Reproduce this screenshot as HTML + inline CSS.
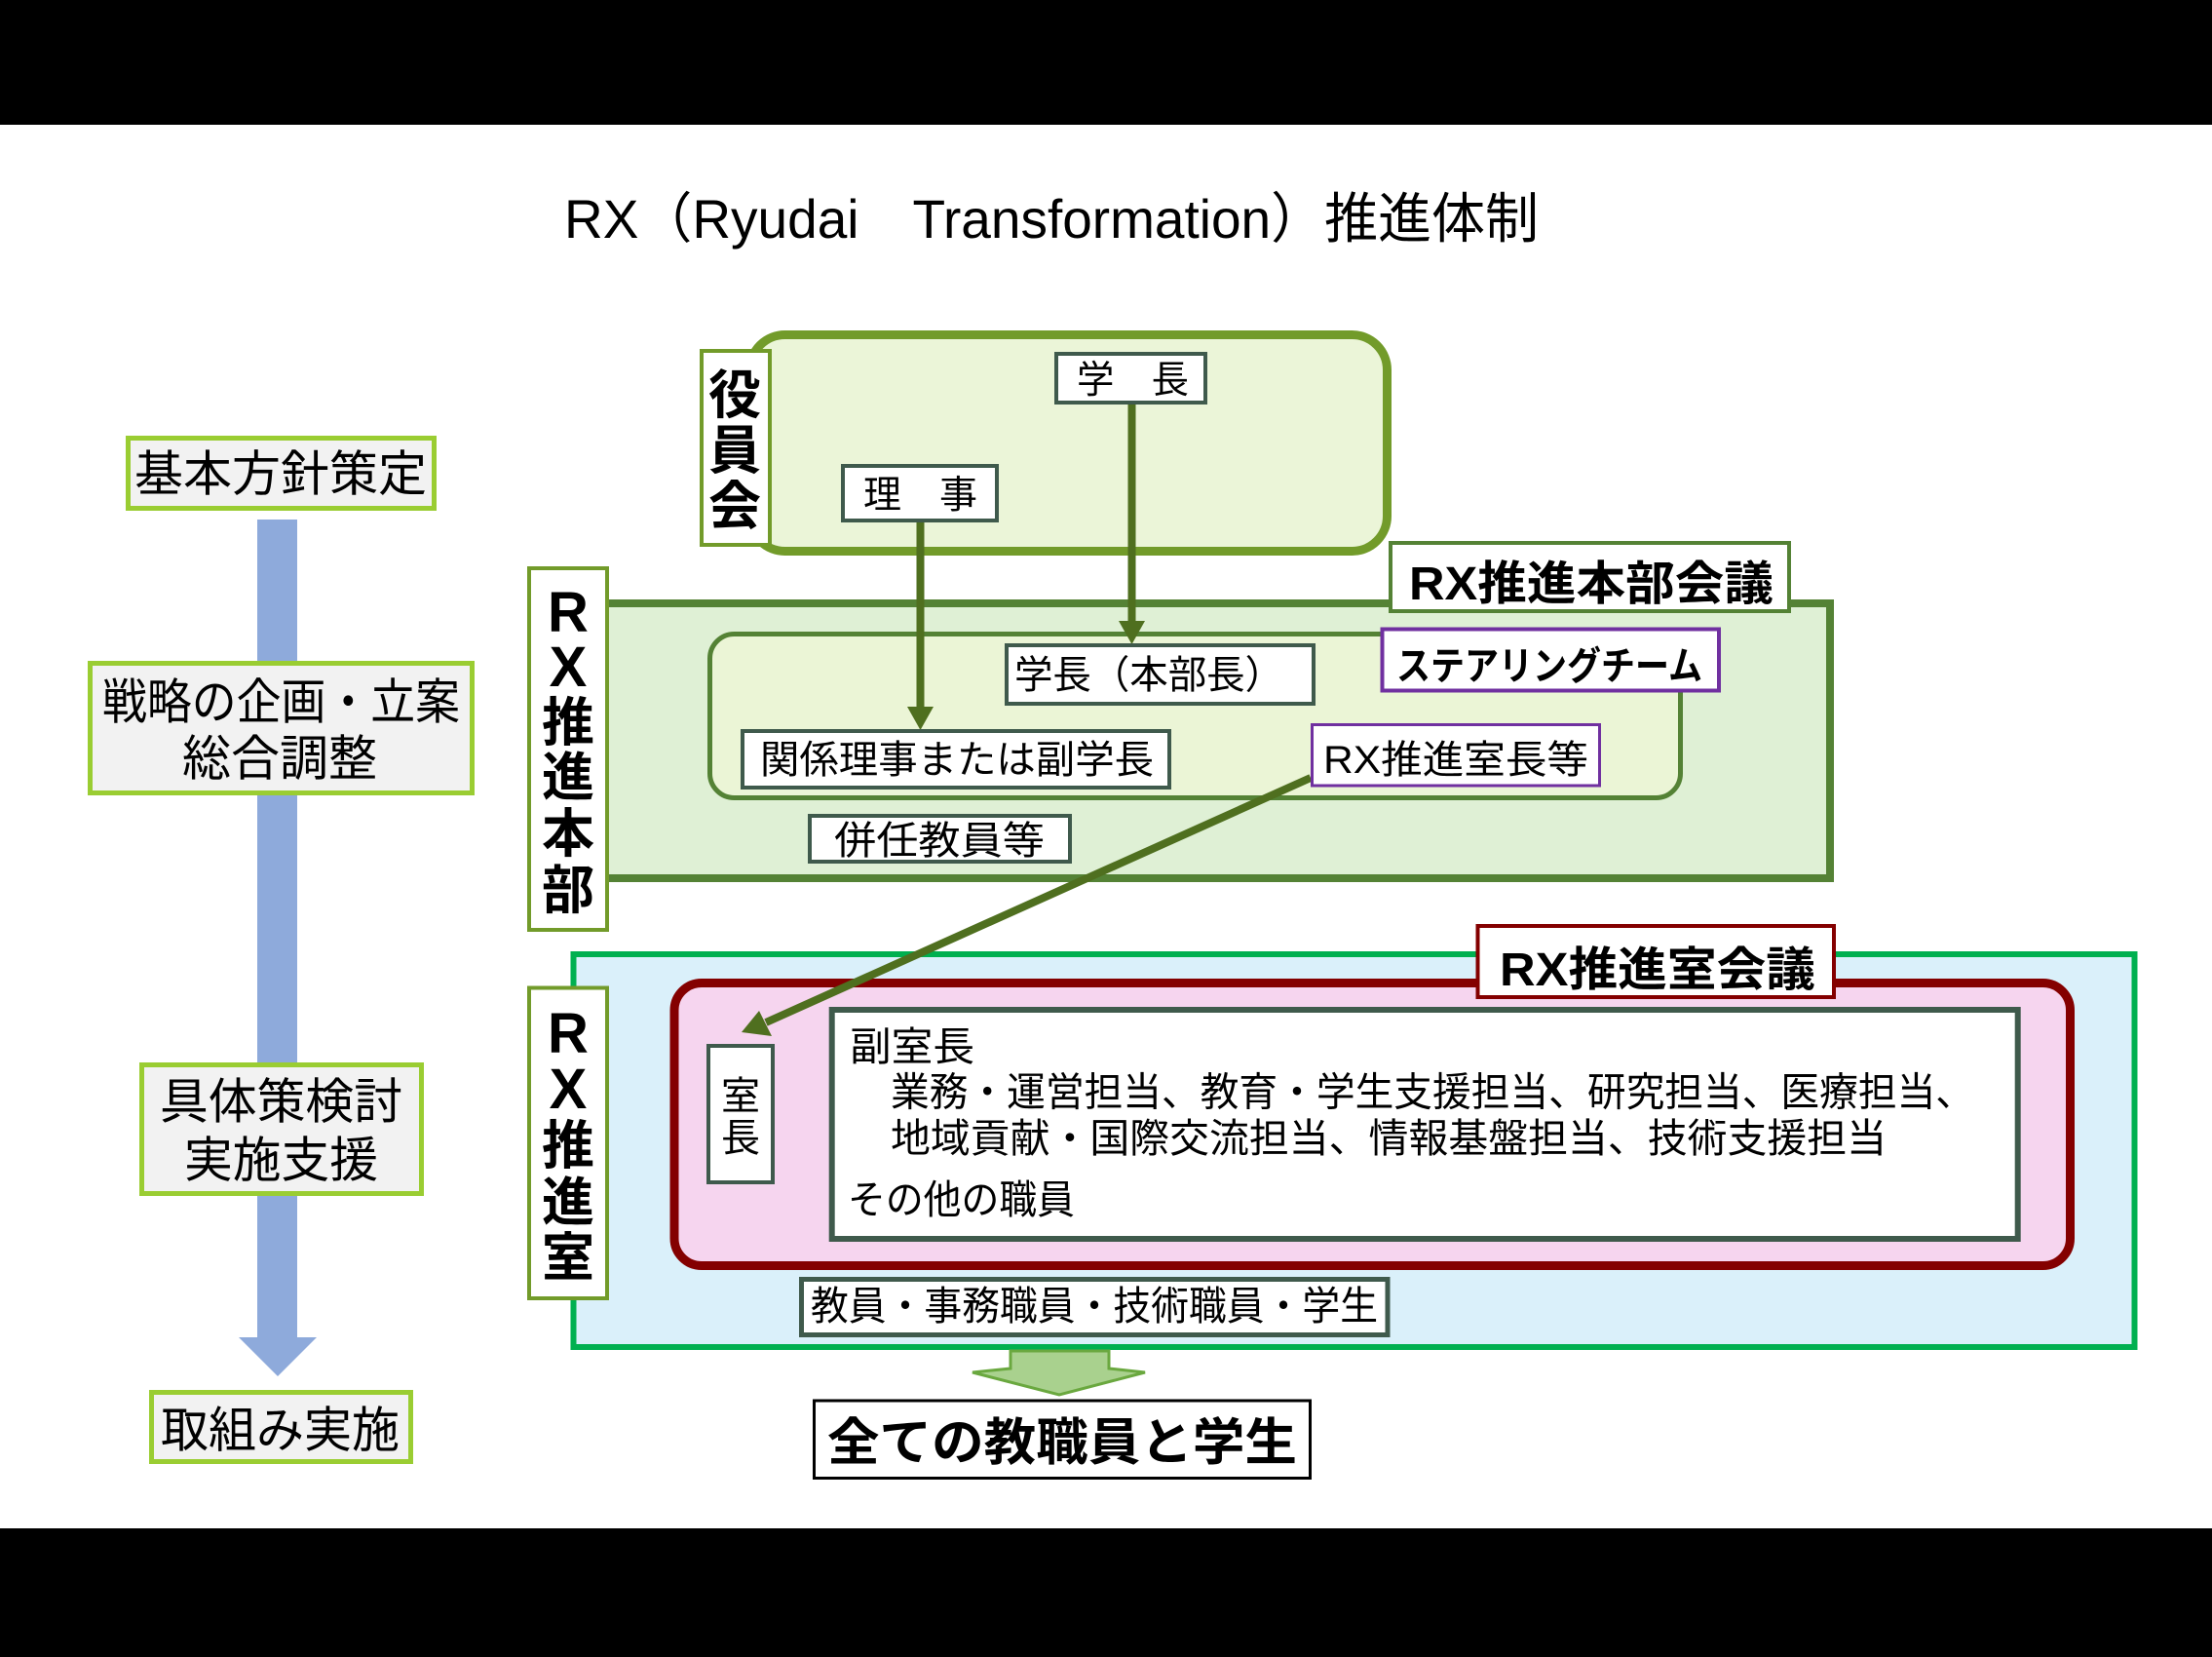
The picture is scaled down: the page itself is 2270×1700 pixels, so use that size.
<!DOCTYPE html>
<html>
<head>
<meta charset="utf-8">
<style>
html,body{margin:0;padding:0;background:#fff;}
svg{display:block;}
text{font-family:"Liberation Sans","Noto Sans CJK JP",sans-serif;fill:#000;}
.b{font-weight:700;}
</style>
</head>
<body>
<svg xmlns="http://www.w3.org/2000/svg" width="2270" height="1700" viewBox="0 0 2270 1700">
  <rect x="0" y="0" width="2270" height="1700" fill="#ffffff"/>
  <!-- black bars -->
  <rect x="0" y="0" width="2270" height="128" fill="#000"/>
  <rect x="0" y="1568" width="2270" height="132" fill="#000"/>

  <!-- title -->
  <text x="579" y="244" font-size="56" textLength="1000" lengthAdjust="spacingAndGlyphs">RX（Ryudai　Transformation）推進体制</text>

  <!-- left column -->
  <rect x="264" y="533" width="41" height="839" fill="#8EAADB"/>
  <polygon points="245,1372 325,1372 285,1412" fill="#8EAADB"/>

  <rect x="131.5" y="449.5" width="314" height="72" fill="#F2F2F2" stroke="#9ACD32" stroke-width="5"/>
  <text x="138" y="503.5" font-size="50" textLength="300" lengthAdjust="spacingAndGlyphs">基本方針策定</text>

  <rect x="92.5" y="680.5" width="392" height="133" fill="#F2F2F2" stroke="#9ACD32" stroke-width="5"/>
  <text x="105" y="737.5" font-size="50" textLength="367" lengthAdjust="spacingAndGlyphs">戦略の企画・立案</text>
  <text x="187" y="795.5" font-size="50" textLength="200" lengthAdjust="spacingAndGlyphs">総合調整</text>

  <rect x="145.5" y="1092.5" width="287" height="132" fill="#F2F2F2" stroke="#9ACD32" stroke-width="5"/>
  <text x="164" y="1147.5" font-size="50" textLength="249" lengthAdjust="spacingAndGlyphs">具体策検討</text>
  <text x="189" y="1207.5" font-size="50" textLength="199" lengthAdjust="spacingAndGlyphs">実施支援</text>

  <rect x="155.5" y="1428.5" width="266" height="71" fill="#F2F2F2" stroke="#9ACD32" stroke-width="5"/>
  <text x="165" y="1484.5" font-size="50" textLength="245" lengthAdjust="spacingAndGlyphs">取組み実施</text>

  <!-- 役員会 -->
  <rect x="769.5" y="343.5" width="654" height="222" rx="36" ry="36" fill="#EBF5D8" stroke="#729B2A" stroke-width="9"/>

  <!-- RX推進本部 -->
  <rect x="604" y="619" width="1274" height="282" fill="#DFF0D5" stroke="#548235" stroke-width="8"/>
  <rect x="728.5" y="650.5" width="996" height="168" rx="25" ry="25" fill="#EBF5D6" stroke="#548235" stroke-width="5"/>

  <!-- arrows from 役員会 -->
  <line x1="944.5" y1="536" x2="944.5" y2="727" stroke="#4F6F1F" stroke-width="8"/>
  <polygon points="931,725 958,725 944.5,749" fill="#4F6F1F"/>
  <line x1="1161.5" y1="415" x2="1161.5" y2="639" stroke="#4F6F1F" stroke-width="8"/>
  <polygon points="1148,637 1175,637 1161.5,661" fill="#4F6F1F"/>

  <!-- boxes in 役員会 -->
  <rect x="1084" y="363" width="153" height="50" fill="#fff" stroke="#3F5A4C" stroke-width="4"/>
  <text x="1105" y="403" font-size="39" textLength="115" lengthAdjust="spacingAndGlyphs">学　長</text>
  <rect x="865" y="478" width="158" height="56" fill="#fff" stroke="#3F5A4C" stroke-width="4"/>
  <text x="886" y="521" font-size="39" textLength="117" lengthAdjust="spacingAndGlyphs">理　事</text>

  <!-- boxes in 本部 -->
  <rect x="1033" y="662" width="315" height="60" fill="#fff" stroke="#3F5A4C" stroke-width="4"/>
  <text x="1041" y="706" font-size="40" textLength="276" lengthAdjust="spacingAndGlyphs">学長（本部長）</text>
  <rect x="762" y="750" width="438" height="58" fill="#fff" stroke="#3F5A4C" stroke-width="4"/>
  <text x="780" y="793" font-size="40" textLength="404" lengthAdjust="spacingAndGlyphs">関係理事または副学長</text>
  <rect x="831" y="837" width="267" height="47" fill="#fff" stroke="#3F5A4C" stroke-width="4"/>
  <text x="856" y="876" font-size="40" textLength="216" lengthAdjust="spacingAndGlyphs">併任教員等</text>

  <rect x="1418.5" y="645.5" width="345.5" height="63" fill="#fff" stroke="#7030A0" stroke-width="4"/>
  <text class="b" x="1433" y="697" font-size="40" textLength="314" lengthAdjust="spacingAndGlyphs">ステアリングチーム</text>

  <rect x="1427" y="557" width="409" height="70" fill="#fff" stroke="#548235" stroke-width="4"/>
  <text class="b" x="1446" y="615" font-size="48" textLength="374" lengthAdjust="spacingAndGlyphs">RX推進本部会議</text>

  <!-- RX推進室 -->
  <rect x="588.5" y="979" width="1602" height="403" fill="#DAF0FA" stroke="#00B050" stroke-width="6"/>
  <rect x="692" y="1008.5" width="1432.5" height="290" rx="28" ry="28" fill="#F6D5EF" stroke="#840000" stroke-width="9"/>

  <rect x="1516.5" y="950" width="365.5" height="73" fill="#fff" stroke="#840000" stroke-width="4"/>
  <text class="b" x="1539" y="1011" font-size="48" textLength="324" lengthAdjust="spacingAndGlyphs">RX推進室会議</text>

  <rect x="853.7" y="1036" width="1217" height="235" fill="#fff" stroke="#3F5A4C" stroke-width="6"/>
  <text x="872" y="1088" font-size="41" textLength="128" lengthAdjust="spacingAndGlyphs">副室長</text>
  <text x="914" y="1134.5" font-size="41" textLength="1112" lengthAdjust="spacingAndGlyphs">業務・運営担当、教育・学生支援担当、研究担当、医療担当、</text>
  <text x="914" y="1182" font-size="41" textLength="1022" lengthAdjust="spacingAndGlyphs">地域貢献・国際交流担当、情報基盤担当、技術支援担当</text>
  <text x="870" y="1245" font-size="41" textLength="233" lengthAdjust="spacingAndGlyphs">その他の職員</text>

  <rect x="727" y="1073" width="66" height="140" fill="#fff" stroke="#3F5A4C" stroke-width="4"/>
  <text x="760" y="1138" font-size="40" text-anchor="middle">室</text>
  <text x="760" y="1181" font-size="40" text-anchor="middle">長</text>

  <rect x="822.5" y="1312.5" width="601.5" height="57" fill="#fff" stroke="#3F5A4C" stroke-width="5"/>
  <text x="832" y="1354" font-size="41" textLength="582" lengthAdjust="spacingAndGlyphs">教員・事務職員・技術職員・学生</text>

  <!-- diagonal arrow -->
  <line x1="1345" y1="798" x2="786" y2="1049" stroke="#4F6F1F" stroke-width="8"/>
  <polygon points="761,1059 779,1037 792,1063" fill="#4F6F1F"/>

  <rect x="1346.5" y="743.5" width="295" height="62.5" fill="#fff" stroke="#7030A0" stroke-width="3"/>
  <text x="1358" y="793" font-size="40" textLength="272" lengthAdjust="spacingAndGlyphs">RX推進室長等</text>

  <!-- vertical labels -->
  <rect x="720" y="360" width="70" height="199" fill="#fff" stroke="#729B2A" stroke-width="4"/>
  <text class="b" x="754" y="424" font-size="54" text-anchor="middle">役</text>
  <text class="b" x="754" y="481" font-size="54" text-anchor="middle">員</text>
  <text class="b" x="754" y="538" font-size="54" text-anchor="middle">会</text>

  <rect x="543" y="583" width="80" height="371" fill="#fff" stroke="#729B2A" stroke-width="4"/>
  <text class="b" x="583" y="648" font-size="58" text-anchor="middle">R</text>
  <text class="b" x="583" y="704" font-size="58" text-anchor="middle">X</text>
  <text class="b" x="583" y="760" font-size="54" text-anchor="middle">推</text>
  <text class="b" x="583" y="816" font-size="54" text-anchor="middle">進</text>
  <text class="b" x="583" y="874" font-size="54" text-anchor="middle">本</text>
  <text class="b" x="583" y="932" font-size="54" text-anchor="middle">部</text>

  <rect x="543" y="1013.5" width="80" height="318.5" fill="#fff" stroke="#729B2A" stroke-width="4"/>
  <text class="b" x="583" y="1080" font-size="58" text-anchor="middle">R</text>
  <text class="b" x="583" y="1137" font-size="58" text-anchor="middle">X</text>
  <text class="b" x="583" y="1194" font-size="54" text-anchor="middle">推</text>
  <text class="b" x="583" y="1252" font-size="54" text-anchor="middle">進</text>
  <text class="b" x="583" y="1309" font-size="54" text-anchor="middle">室</text>

  <!-- green block arrow -->
  <polygon points="1037,1386 1138,1386 1138,1404 1175,1408 1087,1431 998,1408 1037,1404" fill="#A9D18E" stroke="#6AA83F" stroke-width="3" stroke-linejoin="miter"/>

  <!-- bottom box -->
  <rect x="835.5" y="1437" width="509" height="79.5" fill="#fff" stroke="#000" stroke-width="3"/>
  <text class="b" x="849" y="1498" font-size="52" textLength="482" lengthAdjust="spacingAndGlyphs">全ての教職員と学生</text>
</svg>
</body>
</html>
